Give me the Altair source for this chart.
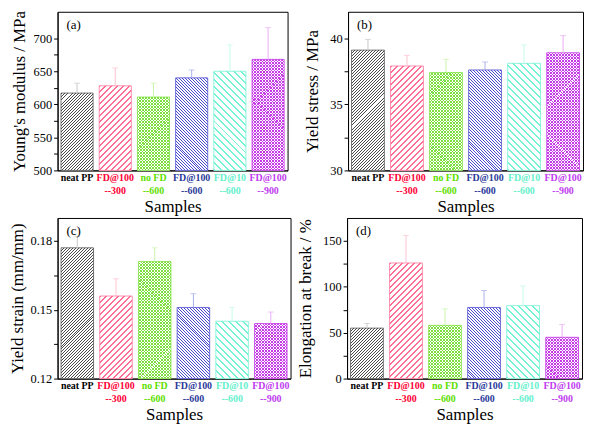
import math
import altair as alt
import pandas as pd

FONT = "Liberation Serif"

samples = ["neat PP", "FD@100|--300", "no FD|--600", "FD@100|--600", "FD@10|--600", "FD@100|--900"]

modulus = [617, 628, 611, 640, 650, 668]
modulus_err = [15, 27, 21, 12, 40, 48]
stress = [39.1, 37.9, 37.4, 37.6, 38.1, 38.9]
stress_err = [0.8, 0.8, 1.0, 0.6, 1.4, 1.3]
strain = [0.177, 0.156, 0.171, 0.151, 0.145, 0.144]
strain_err = [0.005, 0.0075, 0.006, 0.006, 0.006, 0.005]
elong = [55, 126, 58, 77.5, 79.5, 45]
elong_err = [5, 30, 18, 18.5, 21.5, 14]

label_colors = ["#000000", "#ff0033", "#5ee000", "#2b3a9a", "#66f0cc", "#c03cf0"]
hatch_colors = ["#4a4a4a", "#ff6f95", "#7ee040", "#4a4acc", "#74f2d4", "#c63ae6"]
outline_colors = ["#777777", "#ff8fae", "#9be86a", "#7070dd", "#8ff5dc", "#d060ee"]
err_colors = ["#c8c8c8", "#ffc2d1", "#c9f5a8", "#aab0ee", "#c4fbec", "#e9aef5"]
# (kind, horizontal spacing px, line width px measured horizontally)
patterns = [("/", 3, 1), ("/", 6, 2), ("x", 3, 1),
            ("\\", 3, 1), ("\\", 7, 2), ("x", 3, 1)]

P_IN, P_OUT = 0.16, 0.09
CLEAR = "rgba(255,255,255,0)"
CHUNK = 12  # stripes per gradient piece


def hatch_pieces(color, w, h, hspacing, lw, kind):
    """Return several gradient fills which together draw a hatch over the bar."""
    period = hspacing / math.sqrt(2)
    frac = lw / hspacing
    h = max(h, 1.0)
    c = (1 / h + 1 / w) / (1 / h ** 2 + 1 / w ** 2)
    if kind == "/":
        p1 = (0.0, 0.0)
        g = (c / h, c / w)
    else:
        p1 = (0.0, 1.0)
        g = (c / h, -c / w)
    L = (w + h) / math.sqrt(2)
    n = int(math.ceil(L / period))
    fills = []
    for a in range(0, n, CHUNK):
        b = min(a + CHUNK, n)
        ta, tb = a * period / L, b * period / L
        q1 = (p1[0] + ta * g[0], p1[1] + ta * g[1])
        q2 = (p1[0] + tb * g[0], p1[1] + tb * g[1])
        span = b - a
        stops = [{"offset": 0, "color": CLEAR}]
        for k in range(span):
            s = k / span
            e = (k + frac) / span
            stops += [{"offset": round(s, 6), "color": CLEAR},
                      {"offset": round(s, 6), "color": color},
                      {"offset": round(e, 6), "color": color},
                      {"offset": round(e, 6), "color": CLEAR}]
        stops.append({"offset": 1, "color": CLEAR})
        fills.append({"gradient": "linear", "x1": q1[0], "y1": q1[1],
                      "x2": q2[0], "y2": q2[1], "stops": stops})
    return fills


color_expr = " : ".join(
    f"datum.value == '{s}' ? '{c}'" for s, c in zip(samples, label_colors)
) + " : 'black'"


def panel(values, errs, ymin, ymax, major, minor, title, letter, W, H, tpad, fmt):
    df = pd.DataFrame({"sample": samples, "value": values,
                       "top": [v + e for v, e in zip(values, errs)]})
    xs = alt.Scale(domain=samples, paddingInner=P_IN, paddingOuter=P_OUT)
    ys = alt.Scale(domain=[ymin, ymax], nice=False, zero=False)
    n = len(samples)
    step = W / (n - P_IN + 2 * P_OUT)
    bw = step * (1 - P_IN)
    ticks = sorted(major + minor)
    xaxis = alt.Axis(title="Samples", labelExpr="split(datum.label, '|')",
                     labelColor={"expr": color_expr}, labelFontWeight="bold",
                     labelFont=FONT, titleFont=FONT,
                     labelFontSize=10, labelLineHeight=13, labelPadding=2,
                     ticks=False, labelAngle=0, titleFontSize=17, titlePadding=3,
                     titleFontWeight="normal", labelBaseline="top")
    yaxis = alt.Axis(title=title, values=ticks, format=fmt,
                     labelExpr=f"indexof({major}, datum.value) >= 0 ? datum.label : ''",
                     labelFont=FONT, titleFont=FONT,
                     tickSize=4, labelPadding=2, labelFontSize=12.5,
                     titleFontSize=17, titlePadding=tpad, titleFontWeight="normal",
                     titleLimit=400, grid=False)
    X = alt.X("sample:N", scale=xs, axis=xaxis, title="Samples")
    Y = alt.Y("value:Q", scale=ys, axis=yaxis, title=title)
    base = alt.Chart(df)
    layers = []
    for i, s in enumerate(samples):
        h = (values[i] - ymin) / (ymax - ymin) * H
        kind, hsp, lw = patterns[i]
        col = hatch_colors[i]
        one = base.transform_filter(alt.datum.sample == s)
        layers.append(one.mark_bar(fill="white", stroke=outline_colors[i], strokeWidth=1).encode(
            x=X, y=Y, y2=alt.datum(ymin)))
        kinds = ["/", "\\"] if kind == "x" else [kind]
        for kd in kinds:
            for g in hatch_pieces(col, bw, h, hsp, lw, kd):
                layers.append(one.mark_bar(fill=g, strokeWidth=0).encode(
                    x=X, y=Y, y2=alt.datum(ymin)))
    ecol = alt.Color("sample:N", scale=alt.Scale(domain=samples, range=err_colors), legend=None)
    layers.append(base.mark_rule(strokeWidth=1).encode(x=X, y=Y, y2="top:Q", color=ecol))
    layers.append(base.mark_tick(thickness=1, size=6, orient="horizontal").encode(
        x=X, y=alt.Y("top:Q", scale=ys, axis=yaxis, title=title), color=ecol))
    layers.append(alt.Chart(pd.DataFrame({"t": [letter]})).mark_text(
        font=FONT, fontSize=13, align="left", baseline="middle", color="black"
    ).encode(text="t:N", x=alt.value(9), y=alt.value(13)))
    return alt.layer(*layers).properties(width=W, height=H)


pa = panel(modulus, modulus_err, 500, 740, [500, 550, 600, 650, 700], [525, 575, 625, 675],
           "Young's modulus / MPa", "(a)", 232, 160, 5, "d")
pb = panel(stress, stress_err, 30, 42, [30, 35, 40], [32.5, 37.5],
           "Yield stress / MPa", "(b)", 237, 160, 8, "d")
pc = panel(strain, strain_err, 0.12, 0.19, [0.12, 0.15, 0.18], [0.135, 0.165],
           "Yield strain (mm/mm)", "(c)", 235, 162, 3, ".2f")
pd_ = panel(elong, elong_err, 0, 175, [0, 50, 100, 150], [25, 75, 125],
            "Elongation at break / %", "(d)", 237, 162, 8, "d")

row1 = alt.hconcat(pa, pb, spacing=14)
row2 = alt.hconcat(pc, pd_, spacing=4)

chart = alt.vconcat(row1, row2, spacing=2).properties(
    padding=0, background="white"
).configure_view(stroke="black", strokeWidth=1).configure_axis(
    domainColor="black", tickColor="black", labelColor="black", titleColor="black",
    labelFont=FONT, titleFont=FONT, grid=False, domainWidth=1, tickWidth=1
)

chart.save("out.html", embed_options={"renderer": "svg", "actions": False})
